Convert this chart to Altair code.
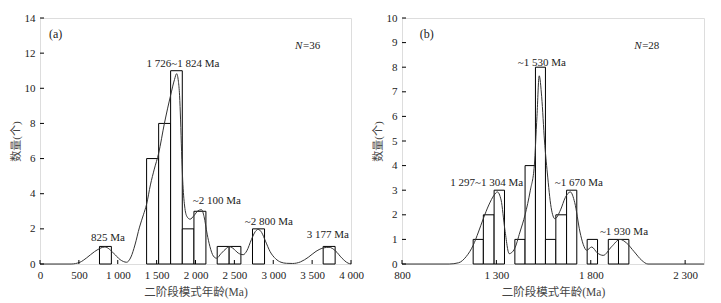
import altair as alt
import pandas as pd

# ---------------- Panel (a) data ----------------
a_bin_start = [765, 1371, 1526, 1680, 1830, 1980, 2279, 2433, 2733, 3642]
a_bin_end = [918, 1526, 1680, 1830, 1980, 2134, 2433, 2584, 2888, 3796]
a_counts = [1, 6, 8, 11, 2, 3, 1, 1, 2, 1]

a_curve_x = [0, 400, 514, 600, 700, 835, 950, 1030, 1114, 1170, 1221, 1280, 1330, 1371,
             1420, 1470, 1526, 1600, 1680, 1730, 1757, 1780, 1795, 1808, 1821, 1835, 1860,
             1890, 1930, 1980, 2030, 2078, 2110, 2150, 2185, 2230, 2270, 2330, 2400, 2435,
             2480, 2550, 2614, 2660, 2720, 2770, 2806, 2850, 2900, 2960, 3030, 3100, 3170,
             3250, 3350, 3450, 3550, 3650, 3718, 3800, 3880, 3962, 4000]
a_curve_y = [0, 0, 0.1, 0.35, 0.7, 0.97, 0.6, 0.25, 0.1, 0.4, 1.08, 2.1, 2.8, 3.4,
             4.5, 5.4, 6.3, 8.0, 9.6, 10.5, 10.83, 10.4, 9.6, 8.2, 6.4, 4.8, 3.3,
             2.7, 2.55, 2.75, 3.02, 3.09, 2.7, 1.7, 1.0, 0.45, 0.33, 0.6, 0.9, 0.99,
             0.9, 0.62, 0.53, 0.75, 1.4, 1.85, 1.97, 1.8, 1.3, 0.7, 0.3, 0.1, 0.04,
             0.03, 0.12, 0.38, 0.72, 0.92, 0.95, 0.75, 0.35, 0.05, 0]

a_label_text = ["825 Ma", "1 726~1 824 Ma", "~2 100 Ma", "~2 800 Ma", "3 177 Ma"]
a_label_x = [874, 1838, 2275, 2943, 3702]
a_label_y = [1.48, 11.4, 3.59, 2.39, 1.65]

a_xticks = [0, 500, 1000, 1500, 2000, 2500, 3000, 3500, 4000]
a_yticks = [0, 2, 4, 6, 8, 10, 12, 14]

# ---------------- Panel (b) data ----------------
b_bin_start = [1177, 1231, 1288, 1398, 1452, 1507, 1560, 1615, 1672, 1781, 1893, 1947]
b_bin_end = [1231, 1288, 1343, 1452, 1507, 1560, 1615, 1672, 1726, 1836, 1947, 2002]
b_counts = [1, 2, 3, 1, 4, 8, 1, 2, 3, 1, 1, 1]

b_curve_x = [800, 1050, 1100, 1140, 1177, 1205, 1231, 1260, 1288, 1305, 1325, 1345, 1368,
             1395, 1425, 1452, 1480, 1501, 1515, 1527, 1540, 1555, 1570, 1590, 1610, 1640,
             1665, 1692, 1715, 1743, 1760, 1778, 1805, 1835, 1866, 1910, 1955, 1990, 2030,
             2070, 2103, 2400]
b_curve_y = [0, 0, 0.05, 0.3, 0.76, 1.3, 1.85, 2.4, 2.8, 2.93, 2.6, 1.4, 0.42,
             0.6, 1.3, 2.0, 3.0, 4.0, 6.0, 7.65, 6.8, 5.0, 3.7, 2.3, 1.84, 2.2,
             2.7, 2.93, 2.5, 1.3, 0.8, 0.56, 0.69, 0.45, 0.35, 0.7, 1.0, 0.85, 0.5,
             0.15, 0, 0]

b_label_text = ["1 297~1 304 Ma", "~1 530 Ma", "~1 670 Ma", "~1 930 Ma"]
b_label_x = [1249, 1541, 1737, 1976]
b_label_y = [3.29, 8.17, 3.29, 1.30]

b_xticks = [800, 1300, 1800, 2300]
b_yticks = [0, 1, 2, 3, 4, 5, 6, 7, 8, 9, 10]

# ---------------- style ----------------
SERIF = "'Liberation Serif', 'Times New Roman', 'Noto Sans CJK SC', serif"
TXT = "#222222"
H = 246


def panel(bs, be, cnt, cx, cy, lt, lx, ly, xt, yt, xdom, ydom, tag, tagx, tagy, n, nx, ny, width):
    bars = pd.DataFrame({"x0": bs, "x1": be, "c": cnt})
    curve = pd.DataFrame({"x0": cx, "c": cy})
    labels = pd.DataFrame({"x0": lx, "c": ly, "t": lt})
    xtk = pd.DataFrame({"x0": xt})
    ytk = pd.DataFrame({"c": yt})

    xs = alt.Scale(domain=xdom, nice=False, zero=False)
    ys = alt.Scale(domain=ydom, nice=False)
    xax = alt.Axis(values=xt, ticks=False, domain=False, grid=False,
                   labelExpr="replace(format(datum.value, ','), ',', ' ')",
                   labelPadding=5, labelFont=SERIF, labelFontSize=11, labelColor=TXT,
                   title="二阶段模式年龄(Ma)", titleFont=SERIF, titleFontSize=11.5,
                   titleFontWeight="normal", titleColor="#444444", titlePadding=6,
                   labelFlush=False, labelOverlap=False)
    yax = alt.Axis(values=yt, ticks=False, domain=False, grid=False,
                   labelPadding=5, labelFont=SERIF, labelFontSize=11, labelColor=TXT,
                   title="数量(个)", titleFont=SERIF, titleFontSize=11,
                   titleFontWeight="normal", titleColor="#444444", titlePadding=3,
                   labelFlush=False, labelOverlap=False)

    X = lambda f: alt.X(f"{f}:Q", scale=xs, axis=xax)
    Y = lambda f: alt.Y(f"{f}:Q", scale=ys, axis=yax)

    bar_layer = alt.Chart(bars).mark_rect(fill="white", stroke="black", strokeWidth=1).encode(
        x=X("x0"), x2="x1", y=Y("c"), y2=alt.datum(0))
    line_layer = alt.Chart(curve).mark_line(color="#333333", strokeWidth=1,
                                            interpolate="monotone").encode(
        x=X("x0"), y=Y("c"))
    text_layer = alt.Chart(labels).mark_text(font=SERIF, fontSize=11, color=TXT,
                                             baseline="middle").encode(
        x=X("x0"), y=Y("c"), text="t:N")
    xtick_layer = alt.Chart(xtk).mark_rule(color="black", strokeWidth=1).encode(
        x=X("x0"), y=alt.value(H), y2=alt.value(H - 4))
    ytick_layer = alt.Chart(ytk).mark_rule(color="black", strokeWidth=1).encode(
        y=Y("c"), x=alt.value(0), x2=alt.value(4))
    tag_df = pd.DataFrame({"x0": [tagx], "c": [tagy], "t": [tag]})
    tag_layer = alt.Chart(tag_df).mark_text(font=SERIF, fontSize=12, color=TXT,
                                            align="left", baseline="middle").encode(
        x=X("x0"), y=Y("c"), text="t:N")
    n_df = pd.DataFrame({"x0": [nx], "c": [ny], "t": ["N"], "u": ["=" + str(n)]})
    n_layer = alt.Chart(n_df).mark_text(font=SERIF, fontSize=11, color=TXT, fontStyle="italic",
                                        align="left", baseline="middle").encode(
        x=X("x0"), y=Y("c"), text="t:N")
    n2_layer = alt.Chart(n_df).mark_text(font=SERIF, fontSize=11, color=TXT, dx=8,
                                         align="left", baseline="middle").encode(
        x=X("x0"), y=Y("c"), text="u:N")

    return alt.layer(bar_layer, line_layer, text_layer, xtick_layer, ytick_layer,
                     tag_layer, n_layer, n2_layer).properties(width=width, height=H)


pa = panel(a_bin_start, a_bin_end, a_counts, a_curve_x, a_curve_y,
           a_label_text, a_label_x, a_label_y, a_xticks, a_yticks,
           [0, 4000], [0, 14], "(a)", 116, 13.1, 36, 3280, 12.4, 311)
pb = panel(b_bin_start, b_bin_end, b_counts, b_curve_x, b_curve_y,
           b_label_text, b_label_x, b_label_y, b_xticks, b_yticks,
           [800, 2400], [0, 10], "(b)", 894, 9.35, 28, 2030, 8.86, 302)

chart = alt.hconcat(pa, pb, spacing=51, bounds="flush").properties(
    padding={"left": 1, "top": 3, "right": 5, "bottom": 5}
).configure_view(stroke="black", strokeWidth=1).configure(background="white")

chart.save("out.html", embed_options={"renderer": "svg", "actions": False})
